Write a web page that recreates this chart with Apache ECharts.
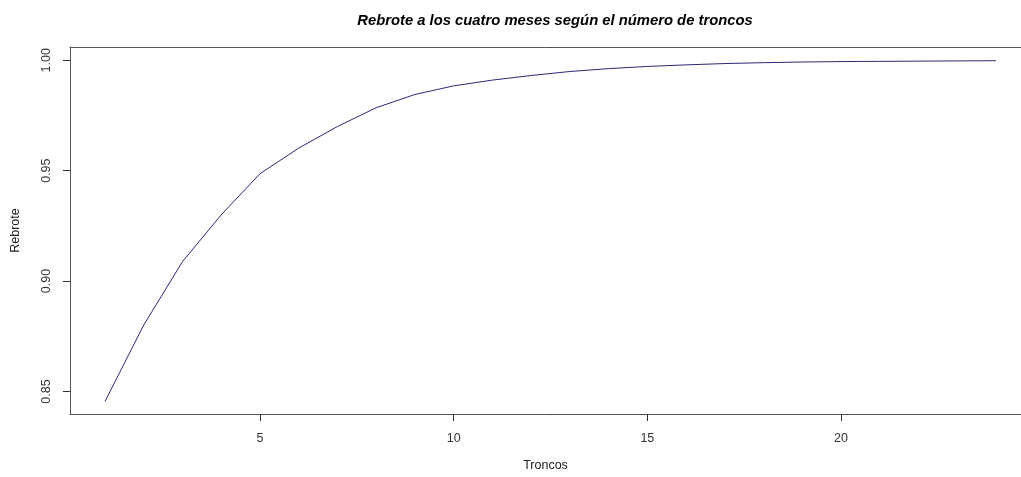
<!DOCTYPE html>
<html>
<head>
<meta charset="utf-8">
<script src="https://cdn.jsdelivr.net/npm/echarts@6/dist/echarts.min.js"></script>
<style>html,body{margin:0;padding:0;background:#fff}#c{width:1021px;height:477px}</style>
</head>
<body>
<div id="c"></div>
<script>
const troncos = [1,2,3,4,5,6,7,8,9,10,11,12,13,14,15,16,17,18,19,20,21,22,23,24];
const rebrote = [0.8455,0.8801,0.9088,0.9300,0.9486,0.9602,0.9700,0.9785,0.9845,0.9884,0.9910,0.9931,0.9949,0.9962,0.9972,0.9979,0.9985,0.9989,0.9992,0.9994,0.9995,0.9996,0.9997,0.9998];
const xTicks = [5,10,15,20];
const yTicks = [0.85,0.90,0.95,1.00];

const chart = echarts.init(document.getElementById('c'), null, {renderer:'canvas'});
const font = 'Liberation Sans, Arial, sans-serif';
const boxLine = {show:true, lineStyle:{color:'#555', width:1}};
chart.setOption({
  animation:false,
  backgroundColor:'#ffffff',
  title:{
    text:'Rebrote a los cuatro meses según el número de troncos',
    left:550, top:8, textAlign:'center',
    textStyle:{fontFamily:font,fontSize:14.8,fontWeight:'bold',fontStyle:'italic',color:'#000'}
  },
  grid:{left:70, right:0, top:47, bottom:61, show:false},
  xAxis:[{
    type:'value', min:0.0965, max:24.645, position:'bottom',
    name:'Troncos', nameLocation:'middle', nameGap:45,
    nameTextStyle:{fontFamily:font,fontSize:12.5,color:'#222'},
    axisLine:boxLine,
    splitLine:{show:false},
    axisTick:{show:true, inside:false, length:7, customValues:xTicks, lineStyle:{color:'#333'}},
    axisLabel:{show:true, customValues:xTicks, margin:18, fontFamily:font, fontSize:12.5, color:'#333'}
  },{
    type:'value', min:0.0965, max:24.645, position:'top',
    axisLine:boxLine, axisTick:{show:false}, axisLabel:{show:false}, splitLine:{show:false}
  }],
  yAxis:{
    type:'value', min:0.8398, max:1.0060,
    name:'Rebrote', nameLocation:'middle', nameGap:48, nameRotate:90,
    nameTextStyle:{fontFamily:font,fontSize:12.5,color:'#222'},
    axisLine:boxLine,
    splitLine:{show:false},
    axisTick:{show:true, inside:false, length:7, customValues:yTicks, lineStyle:{color:'#333'}},
    axisLabel:{show:true, customValues:yTicks, rotate:90, margin:17, fontFamily:font, fontSize:12.5, color:'#333',
      formatter:(v)=>Number(v).toFixed(2)}
  },
  series:[{
    type:'line',
    xAxisIndex:0,
    data:troncos.map((x,i)=>[x,rebrote[i]]),
    showSymbol:false, symbol:'none', smooth:false,
    lineStyle:{color:'#2a2a7a', width:1}
  }]
});
</script>
</body>
</html>
